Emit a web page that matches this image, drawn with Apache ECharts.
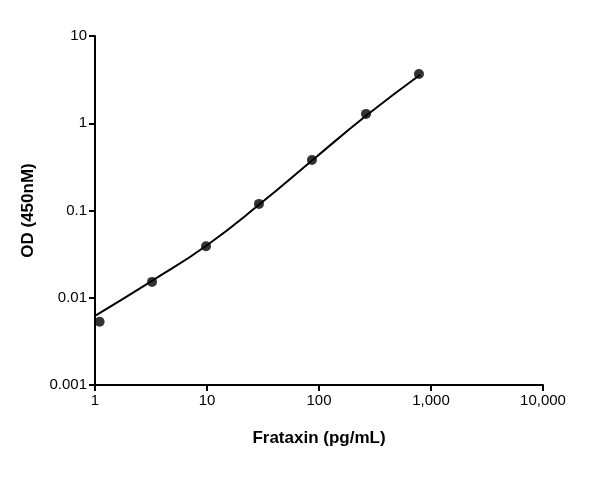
<!DOCTYPE html>
<html><head><meta charset="utf-8">
<script src="https://cdn.jsdelivr.net/npm/echarts@6/dist/echarts.min.js"></script>
<style>html,body{margin:0;background:#fff}#c{width:600px;height:481px}</style>
</head><body><div id="c"></div>
<script>
const pointX = [1.1, 3.23, 9.8, 29.1, 86.5, 263, 781];
const pointY = [0.0053, 0.0152, 0.039, 0.119, 0.379, 1.28, 3.67];
const curveX = [1, 3.2, 10, 30, 90, 270, 800];
const curveY = [0.0062, 0.0155, 0.04, 0.12, 0.39, 1.25, 3.6];
const chart = echarts.init(document.getElementById('c'));
const ax = {color:'#000',fontFamily:'Liberation Sans',fontSize:15};
chart.setOption({
  animation:false,
  grid:{left:95,right:57,top:36,bottom:96},
  xAxis:{type:'log',min:1,max:10000,logBase:10,name:'Frataxin (pg/mL)',nameLocation:'middle',nameGap:45,
    nameTextStyle:{color:'#000',fontFamily:'Liberation Sans',fontSize:17,fontWeight:'bold'},
    axisLine:{lineStyle:{color:'#000',width:2}},axisTick:{lineStyle:{color:'#000',width:2},length:6},
    axisLabel:ax,splitLine:{show:false}},
  yAxis:{type:'log',min:0.001,max:10,logBase:10,name:'OD (450nM)',nameLocation:'middle',nameGap:58,
    nameTextStyle:{color:'#000',fontFamily:'Liberation Sans',fontSize:17,fontWeight:'bold'},
    axisLine:{show:true,lineStyle:{color:'#000',width:2}},axisTick:{show:true,lineStyle:{color:'#000',width:2},length:6},
    axisLabel:Object.assign({formatter:v=>String(+v.toPrecision(3))},ax),splitLine:{show:false}},
  series:[
    {type:'line',data:curveX.map((x,i)=>[x,curveY[i]]),smooth:true,showSymbol:false,lineStyle:{color:'#000',width:2}},
    {type:'scatter',data:pointX.map((x,i)=>[x,pointY[i]]),symbolSize:10,itemStyle:{color:'#000'}}
  ]
});
</script></body></html>
